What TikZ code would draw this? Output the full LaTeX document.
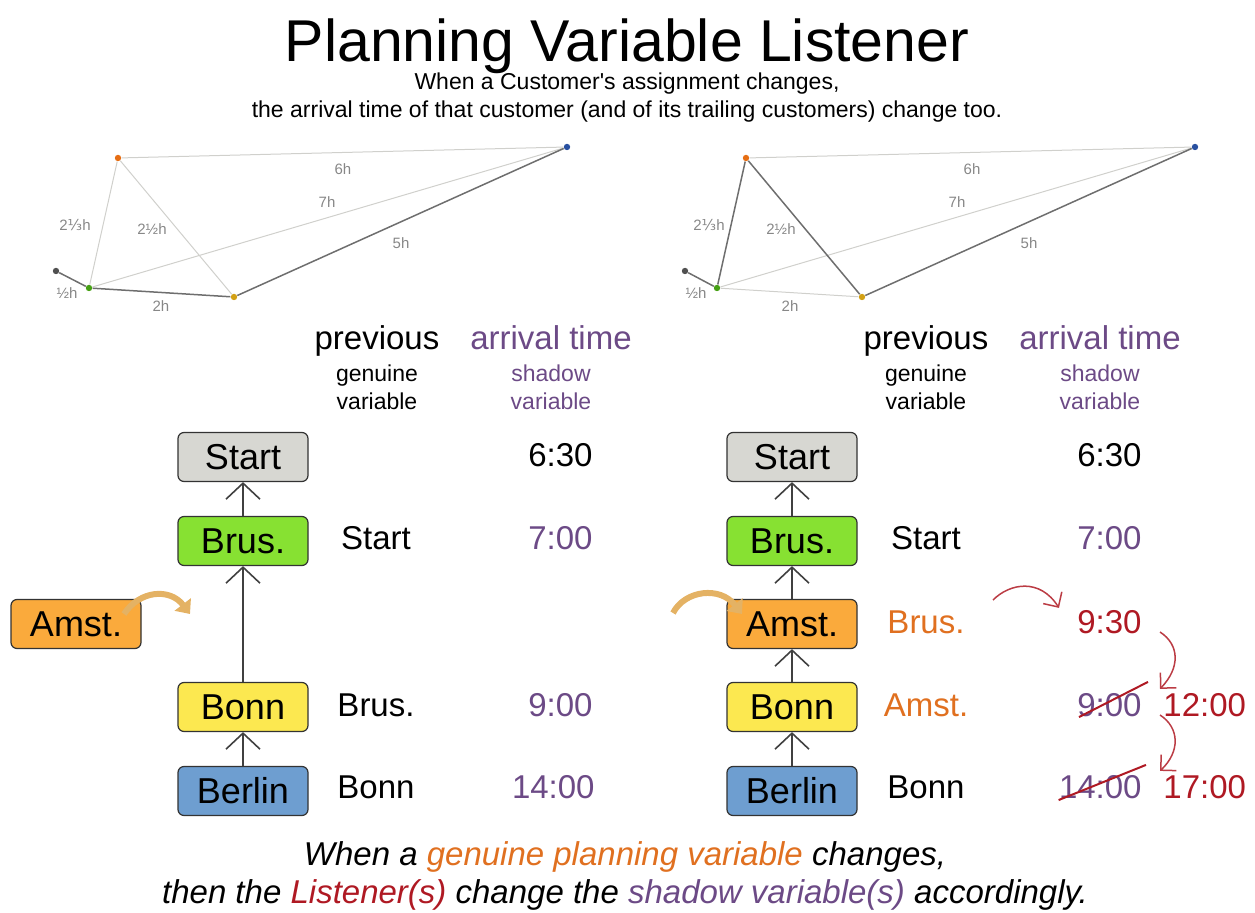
\documentclass[tikz,border=0pt]{standalone}
\usepackage{fontspec}
\setmainfont{Liberation Sans}
\newfontfamily\fracfont{DejaVu Sans}
\usetikzlibrary{arrows.meta}
\definecolor{shadowpurple}{RGB}{108,74,134}
\definecolor{genorange}{RGB}{224,112,32}
\definecolor{lisred}{RGB}{175,25,35}
\definecolor{startgray}{RGB}{215,215,210}
\definecolor{brusgreen}{RGB}{135,225,50}
\definecolor{amstorange}{RGB}{250,170,60}
\definecolor{bonnyellow}{RGB}{252,232,80}
\definecolor{berlinblue}{RGB}{110,158,208}
\definecolor{dotgray}{RGB}{80,80,80}
\definecolor{dotgreen}{RGB}{70,160,20}
\definecolor{dotorange}{RGB}{230,110,20}
\definecolor{dotyellow}{RGB}{210,160,20}
\definecolor{dotblue}{RGB}{40,80,160}
\definecolor{roadlight}{RGB}{208,208,204}
\definecolor{roaddark}{RGB}{110,110,110}
\definecolor{distgray}{RGB}{135,135,135}
\definecolor{tanfill}{RGB}{228,178,100}

\tikzset{
  city/.style={draw=black!80, rounded corners=3pt, line width=0.6pt, minimum width=65pt, minimum height=24.5pt, inner sep=0pt, font=\fontsize{18}{20}\selectfont},
  link/.style={draw=black!75, line width=0.8pt, -{Straight Barb[length=8pt,width=17pt]}},
  stop/.style={circle, inner sep=0pt, minimum size=3.2pt},
  road/.style={draw=roadlight, line width=0.5pt},
  route/.style={draw=roaddark, line width=0.75pt},
  dist/.style={text=distgray, font=\fontsize{7.5}{9}\selectfont, inner sep=0pt},
  head/.style={font=\fontsize{16.5}{18}\selectfont, inner sep=0pt, anchor=base},
  kind/.style={font=\fontsize{11.5}{13}\selectfont, inner sep=0pt, anchor=base},
  value/.style={font=\fontsize{16.5}{18}\selectfont, inner sep=0pt},
  ripple/.style={draw=lisred!85, line width=0.75pt, -{Straight Barb[length=5.5pt,width=11pt]}},
  strike/.style={draw=lisred, line width=1pt},
  move/.style={draw=tanfill, line width=3pt, -{Triangle[length=6pt,width=10pt]}},
}

\begin{document}
\begin{tikzpicture}[x=0.5pt,y=-0.5pt]
\useasboundingbox (0,0) rectangle (1255,913);

% title
\node[anchor=base, inner sep=0pt, font=\fontsize{29.5}{32}\selectfont] (title) at (627,62) {Planning Variable Listener};
\node[kind] (sub1) at (627,90) {When a Customer\textquotesingle s assignment changes,};
\node[kind] (sub2) at (627,118) {the arrival time of that customer (and of its trailing customers) change too.};

% map before
\node[stop, fill=dotgray] (mStartL) at (56,271) {};
\node[stop, fill=dotgreen] (mBrusL) at (89,288) {};
\node[stop, fill=dotorange] (mAmstL) at (118,158) {};
\node[stop, fill=dotyellow] (mBonnL) at (234,297) {};
\node[stop, fill=dotblue] (mBerlinL) at (567,147) {};
\draw[road] (mAmstL) -- (mBerlinL);
\draw[road] (mBrusL) -- (mBerlinL);
\draw[road] (mBrusL) -- (mAmstL);
\draw[road] (mAmstL) -- (mBonnL);
\draw[route] (mStartL) -- (mBrusL);
\draw[route] (mBrusL) -- (mBonnL);
\draw[route] (mBonnL) -- (mBerlinL);
\node[dist] (dHalfL) at (67,293) {½h};
\node[dist] (dTwoL) at (161,306) {2h};
\node[dist] (dFiveL) at (401,243) {5h};
\node[dist] (dThirdL) at (75,225) {2{\fracfont ⅓}h};
\node[dist] (dTwoHalfL) at (152,229) {2½h};
\node[dist] (dSixL) at (343,169) {6h};
\node[dist] (dSevenL) at (327,202) {7h};

% map after
\node[stop, fill=dotgray] (mStartR) at (685,271) {};
\node[stop, fill=dotgreen] (mBrusR) at (717,288) {};
\node[stop, fill=dotorange] (mAmstR) at (746,158) {};
\node[stop, fill=dotyellow] (mBonnR) at (862,297) {};
\node[stop, fill=dotblue] (mBerlinR) at (1195,147) {};
\draw[road] (mAmstR) -- (mBerlinR);
\draw[road] (mBrusR) -- (mBerlinR);
\draw[road] (mBrusR) -- (mBonnR);
\draw[route] (mStartR) -- (mBrusR);
\draw[route] (mBrusR) -- (mAmstR);
\draw[route] (mAmstR) -- (mBonnR);
\draw[route] (mBonnR) -- (mBerlinR);
\node[dist] (dHalfR) at (696,293) {½h};
\node[dist] (dTwoR) at (790,306) {2h};
\node[dist] (dFiveR) at (1029,243) {5h};
\node[dist] (dThirdR) at (709,225) {2{\fracfont ⅓}h};
\node[dist] (dTwoHalfR) at (781,229) {2½h};
\node[dist] (dSixR) at (972,169) {6h};
\node[dist] (dSevenR) at (957,202) {7h};

% column headers
\node[head] (prevL) at (377,350) {previous};
\node[kind] (genL) at (377,382) {genuine};
\node[kind] (genvL) at (377,410) {variable};
\node[head, text=shadowpurple] (arrL) at (551,350) {arrival time};
\node[kind, text=shadowpurple] (shaL) at (551,382) {shadow};
\node[kind, text=shadowpurple] (shavL) at (551,410) {variable};
\node[head] (prevR) at (926,350) {previous};
\node[kind] (genR) at (926,382) {genuine};
\node[kind] (genvR) at (926,410) {variable};
\node[head, text=shadowpurple] (arrR) at (1100,350) {arrival time};
\node[kind, text=shadowpurple] (shaR) at (1100,382) {shadow};
\node[kind, text=shadowpurple] (shavR) at (1100,410) {variable};

% chain before
\node[city, fill=startgray] (startL) at (243,457) {Start};
\node[city, fill=brusgreen] (brusL) at (243,541) {Brus.};
\node[city, fill=amstorange] (amstL) at (76,624) {Amst.};
\node[city, fill=bonnyellow] (bonnL) at (243,707) {Bonn};
\node[city, fill=berlinblue] (berlinL) at (243,791) {Berlin};
\draw[link] (brusL) -- (startL);
\draw[link] (bonnL) -- (brusL);
\draw[link] (berlinL) -- (bonnL);
\coordinate (dropL) at (190,614);
\draw[move] ([shift={(48,-10)}]amstL.center) .. controls (140,590) and (170,588) .. (dropL);

\node[value] (pBrusL) at (376,538) {Start};
\node[value] (pBonnL) at (376,705) {Brus.};
\node[value] (pBerlinL) at (376,787) {Bonn};
\node[value, anchor=east] (tStartL) at (593,455) {6:30};
\node[value, anchor=east, text=shadowpurple] (tBrusL) at (593,538) {7:00};
\node[value, anchor=east, text=shadowpurple] (tBonnL) at (593,705) {9:00};
\node[value, anchor=east, text=shadowpurple] (tBerlinL) at (595,787) {14:00};

% chain after
\node[city, fill=startgray] (startR) at (792,457) {Start};
\node[city, fill=brusgreen] (brusR) at (792,541) {Brus.};
\node[city, fill=amstorange] (amstR) at (792,624) {Amst.};
\node[city, fill=bonnyellow] (bonnR) at (792,707) {Bonn};
\node[city, fill=berlinblue] (berlinR) at (792,791) {Berlin};
\draw[link] (brusR) -- (startR);
\draw[link] (amstR) -- (brusR);
\draw[link] (bonnR) -- (amstR);
\draw[link] (berlinR) -- (bonnR);
\coordinate (liftR) at (673,613);
\draw[move] (liftR) .. controls (685,590) and (720,586) .. ([shift={(-50,-10)}]amstR.center);

\node[value] (pBrusR) at (926,538) {Start};
\node[value, text=genorange] (pAmstR) at (926,622) {Brus.};
\node[value, text=genorange] (pBonnR) at (926,705) {Amst.};
\node[value] (pBerlinR) at (926,787) {Bonn};
\node[value, anchor=east] (tStartR) at (1142,455) {6:30};
\node[value, anchor=east, text=shadowpurple] (tBrusR) at (1142,538) {7:00};
\node[value, anchor=east, text=lisred] (tAmstR) at (1142,622) {9:30};
\node[value, anchor=east, text=shadowpurple] (oldBonnR) at (1142,705) {9:00};
\node[value, anchor=east, text=shadowpurple] (oldBerlinR) at (1142,787) {14:00};
\node[value, anchor=west, text=lisred] (tBonnR) at (1163,705) {12:00};
\node[value, anchor=west, text=lisred] (tBerlinR) at (1163,787) {17:00};
\draw[strike] ([shift={(2,0)}]oldBonnR.south west) -- ([shift={(6,-11)}]oldBonnR.north east);
\draw[strike] ([shift={(0,1)}]oldBerlinR.south west) -- ([shift={(4,-10)}]oldBerlinR.north east);

% ripple of the listener
\coordinate (rA) at (993,600);
\coordinate (rB) at (1160,632);
\coordinate (rC) at (1160,715);
\draw[ripple] (rA) .. controls (1010,583) and (1040,578) .. ([shift={(-18,-2)}]tAmstR.north west);
\draw[ripple] (rB) .. controls (1180,645) and (1180,668) .. ([shift={(18,-4)}]oldBonnR.north east);
\draw[ripple] (rC) .. controls (1180,728) and (1180,752) .. ([shift={(18,-4)}]oldBerlinR.north east);

% moral
\node[anchor=base, inner sep=0pt, font=\fontsize{16.5}{19}\selectfont\itshape] (moral1) at (625,866) {When a \textcolor{genorange}{genuine planning variable} changes,};
\node[anchor=base, inner sep=0pt, font=\fontsize{16.5}{19}\selectfont\itshape] (moral2) at (625,904) {then the \textcolor{lisred}{Listener(s)} change the \textcolor{shadowpurple}{shadow variable(s)} accordingly.};
\end{tikzpicture}
\end{document}
